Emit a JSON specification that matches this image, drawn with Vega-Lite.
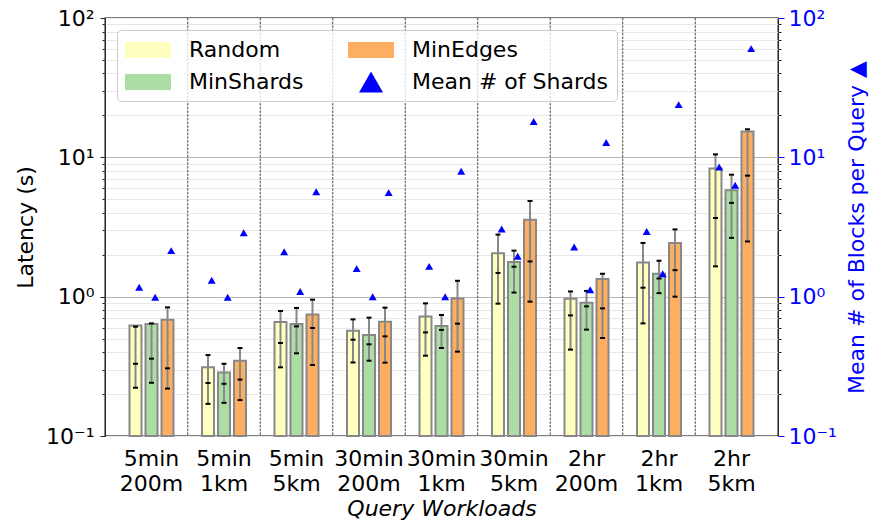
{
  "$schema": "https://vega.github.io/schema/vega-lite/v6.json",
  "width": 673,
  "height": 418,
  "autosize": {"type": "none"},
  "padding": {"left": 105, "top": 18, "right": 97, "bottom": 95},
  "data": {
    "values": [
      {"g": "5min 200m", "m": "Random", "mean": 0.62, "lo": 0.222, "mid": 0.33, "hi": 0.609, "sh": 1.17},
      {"g": "5min 200m", "m": "MinShards", "mean": 0.637, "lo": 0.241, "mid": 0.359, "hi": 0.643, "sh": 0.99},
      {"g": "5min 200m", "m": "MinEdges", "mean": 0.684, "lo": 0.219, "mid": 0.306, "hi": 0.838, "sh": 2.14},
      {"g": "5min 1km", "m": "Random", "mean": 0.311, "lo": 0.17, "mid": 0.24, "hi": 0.381, "sh": 1.31},
      {"g": "5min 1km", "m": "MinShards", "mean": 0.286, "lo": 0.173, "mid": 0.237, "hi": 0.33, "sh": 0.99},
      {"g": "5min 1km", "m": "MinEdges", "mean": 0.347, "lo": 0.181, "mid": 0.254, "hi": 0.428, "sh": 2.88},
      {"g": "5min 5km", "m": "Random", "mean": 0.658, "lo": 0.311, "mid": 0.465, "hi": 0.789, "sh": 2.1},
      {"g": "5min 5km", "m": "MinShards", "mean": 0.637, "lo": 0.392, "mid": 0.612, "hi": 0.83, "sh": 1.09},
      {"g": "5min 5km", "m": "MinEdges", "mean": 0.746, "lo": 0.323, "mid": 0.596, "hi": 0.952, "sh": 5.67},
      {"g": "30min 200m", "m": "Random", "mean": 0.57, "lo": 0.337, "mid": 0.491, "hi": 0.687, "sh": 1.59},
      {"g": "30min 200m", "m": "MinShards", "mean": 0.531, "lo": 0.347, "mid": 0.455, "hi": 0.707, "sh": 1.0},
      {"g": "30min 200m", "m": "MinEdges", "mean": 0.662, "lo": 0.336, "mid": 0.519, "hi": 0.834, "sh": 5.58},
      {"g": "30min 1km", "m": "Random", "mean": 0.722, "lo": 0.377, "mid": 0.554, "hi": 0.895, "sh": 1.65},
      {"g": "30min 1km", "m": "MinShards", "mean": 0.616, "lo": 0.428, "mid": 0.577, "hi": 0.739, "sh": 1.0},
      {"g": "30min 1km", "m": "MinEdges", "mean": 0.972, "lo": 0.403, "mid": 0.64, "hi": 1.3, "sh": 7.94},
      {"g": "30min 5km", "m": "Random", "mean": 2.05, "lo": 0.891, "mid": 1.48, "hi": 2.79, "sh": 3.06},
      {"g": "30min 5km", "m": "MinShards", "mean": 1.77, "lo": 1.07, "mid": 1.64, "hi": 2.14, "sh": 1.95},
      {"g": "30min 5km", "m": "MinEdges", "mean": 3.57, "lo": 0.921, "mid": 1.79, "hi": 4.86, "sh": 18.1},
      {"g": "2hr 200m", "m": "Random", "mean": 0.968, "lo": 0.417, "mid": 0.734, "hi": 1.09, "sh": 2.27},
      {"g": "2hr 200m", "m": "MinShards", "mean": 0.906, "lo": 0.58, "mid": 0.852, "hi": 1.1, "sh": 1.12},
      {"g": "2hr 200m", "m": "MinEdges", "mean": 1.34, "lo": 0.505, "mid": 0.824, "hi": 1.46, "sh": 12.8},
      {"g": "2hr 1km", "m": "Random", "mean": 1.76, "lo": 0.643, "mid": 1.16, "hi": 2.43, "sh": 2.94},
      {"g": "2hr 1km", "m": "MinShards", "mean": 1.46, "lo": 1.06, "mid": 1.35, "hi": 1.81, "sh": 1.46},
      {"g": "2hr 1km", "m": "MinEdges", "mean": 2.43, "lo": 1.0, "mid": 1.55, "hi": 3.04, "sh": 23.9},
      {"g": "2hr 5km", "m": "Random", "mean": 8.3, "lo": 1.65, "mid": 3.67, "hi": 10.5, "sh": 8.53},
      {"g": "2hr 5km", "m": "MinShards", "mean": 5.8, "lo": 2.64, "mid": 4.71, "hi": 7.51, "sh": 6.3},
      {"g": "2hr 5km", "m": "MinEdges", "mean": 15.3, "lo": 2.49, "mid": 7.39, "hi": 15.9, "sh": 60.3}
    ]
  },
  "layer": [
    {
      "layer": [
        {
          "data": {"values": [
            {"g": "5min 1km"}, {"g": "5min 5km"}, {"g": "30min 200m"}, {"g": "30min 1km"},
            {"g": "30min 5km"}, {"g": "2hr 200m"}, {"g": "2hr 1km"}, {"g": "2hr 5km"}
          ]},
          "mark": {"type": "rule", "color": "#444444", "strokeWidth": 1, "strokeDash": [2.5, 1.2]},
          "encoding": {
            "x": {"field": "g", "type": "nominal", "bandPosition": 0, "title": "Query Workloads"}
          }
        },
        {
          "mark": {"type": "bar", "stroke": "#888888", "strokeWidth": 2, "opacity": 1},
          "encoding": {
            "x": {
              "field": "g", "type": "nominal", "title": "Query Workloads",
              "scale": {
                "domain": ["5min 200m", "5min 1km", "5min 5km", "30min 200m", "30min 1km", "30min 5km", "2hr 200m", "2hr 1km", "2hr 5km"],
                "paddingInner": 0, "paddingOuter": 0.1414
              }
            },
            "xOffset": {
              "field": "m", "type": "nominal",
              "scale": {"domain": ["Random", "MinShards", "MinEdges"], "paddingInner": 0.25, "paddingOuter": 0.89}
            },
            "y": {
              "field": "mean", "type": "quantitative", "title": "Latency (s)",
              "scale": {"type": "log", "domain": [0.1, 100], "nice": false},
              "axis": {"orient": "left"}
            },
            "y2": {"datum": 0.1},
            "color": {
              "field": "m", "type": "nominal",
              "scale": {
                "domain": ["Random", "MinShards", "MinEdges", "Mean # of Shards"],
                "range": ["#ffffbf", "#abdda4", "#fdae61", "#0000ff"]
              },
              "legend": {"title": null}
            }
          }
        },
        {
          "mark": {"type": "rule", "color": "#888888", "strokeWidth": 2},
          "encoding": {
            "x": {"field": "g", "type": "nominal", "title": "Query Workloads"},
            "xOffset": {"field": "m", "type": "nominal"},
            "y": {"field": "lo", "type": "quantitative", "title": "Latency (s)"},
            "y2": {"field": "hi"}
          }
        },
        {
          "transform": [{"fold": ["lo", "mid", "hi"], "as": ["k", "v"]}],
          "mark": {"type": "tick", "color": "black", "thickness": 2, "size": 5, "opacity": 1},
          "encoding": {
            "x": {"field": "g", "type": "nominal", "title": "Query Workloads"},
            "xOffset": {"field": "m", "type": "nominal"},
            "y": {"field": "v", "type": "quantitative", "title": "Latency (s)"}
          }
        }
      ]
    },
    {
      "mark": {"type": "point", "filled": true, "size": 64, "opacity": 1},
      "encoding": {
        "x": {"field": "g", "type": "nominal", "title": "Query Workloads"},
        "xOffset": {"field": "m", "type": "nominal"},
        "y": {
          "field": "sh", "type": "quantitative", "title": "Mean # of Blocks per Query ▲",
          "scale": {"type": "log", "domain": [0.1, 100], "nice": false},
          "axis": {
            "orient": "right",
            "grid": false,
            "domain": false,
            "values": [0.1, 0.2, 0.3, 0.4, 0.5, 0.6, 0.7, 0.8, 0.9, 1, 2, 3, 4, 5, 6, 7, 8, 9, 10, 20, 30, 40, 50, 60, 70, 80, 90, 100],
            "labelExpr": "datum.value == 100 ? '10²' : datum.value == 10 ? '10¹' : datum.value == 1 ? '10⁰' : datum.value == 0.1 ? '10⁻¹' : ''",
            "labelColor": "#0000ff",
            "titleColor": "#0000ff",
            "titleAngle": -90,
            "titleBaseline": "top",
            "titlePadding": 10,
            "labelPadding": 4,
            "tickColor": {"condition": {"test": "indexof([0.1, 1, 10, 100], datum.value) >= 0", "value": "#0000ff"}, "value": "#222222"},
            "tickSize": {"condition": {"test": "indexof([0.1, 1, 10, 100], datum.value) >= 0", "value": 6}, "value": 3}
          }
        },
        "color": {"datum": "Mean # of Shards"},
        "shape": {
          "datum": "Mean # of Shards",
          "scale": {
            "domain": ["Random", "MinShards", "MinEdges", "Mean # of Shards"],
            "range": ["M-1,-0.67H2.83V0.67H-1Z", "M-1,-0.67H2.83V0.67H-1Z", "M-1,-0.67H2.83V0.67H-1Z", "M0.92,-0.87L1.92,0.87L-0.08,0.87Z"]
          },
          "legend": {"title": null}
        }
      }
    }
  ],
  "resolve": {"scale": {"y": "independent"}},
  "config": {
    "font": "DejaVu Sans",
    "view": {"stroke": "black", "strokeWidth": 1.3},
    "axis": {
      "labelFont": "DejaVu Sans",
      "titleFont": "DejaVu Sans",
      "labelFontSize": 22,
      "titleFontSize": 22,
      "titleFontWeight": "normal",
      "labelColor": "black",
      "titleColor": "black"
    },
    "axisX": {
      "ticks": false,
      "domain": false,
      "grid": false,
      "labelAngle": 0,
      "labelExpr": "split(datum.value, ' ')",
      "labelLineHeight": 25,
      "labelPadding": 12,
      "labelOverlap": false,
      "labelBound": false,
      "titleFontStyle": "italic",
      "titlePadding": 4
    },
    "axisLeft": {
      "domain": false,
      "grid": true,
      "values": [0.1, 0.2, 0.3, 0.4, 0.5, 0.6, 0.7, 0.8, 0.9, 1, 2, 3, 4, 5, 6, 7, 8, 9, 10, 20, 30, 40, 50, 60, 70, 80, 90, 100],
      "labelExpr": "datum.value == 100 ? '10²' : datum.value == 10 ? '10¹' : datum.value == 1 ? '10⁰' : datum.value == 0.1 ? '10⁻¹' : ''",
      "gridColor": {"condition": {"test": "datum.value == 1 || datum.value == 10", "value": "#b8b8b8"}, "value": "#e8e8e8"},
      "gridWidth": 1.2,
      "tickColor": "#222222",
      "tickSize": {"condition": {"test": "indexof([0.1, 1, 10, 100], datum.value) >= 0", "value": 5}, "value": 3},
      "labelPadding": 6,
      "titlePadding": 8
    },
    "legend": {
      "orient": "top-left",
      "offset": 12,
      "columns": 2,
      "labelFont": "DejaVu Sans",
      "labelFontSize": 22,
      "labelColor": "black",
      "labelLimit": 300,
      "symbolSize": 576,
      "labelOffset": 40,
      "columnPadding": 44,
      "rowPadding": 9,
      "padding": 8,
      "fillColor": "rgba(255,255,255,0.8)",
      "strokeColor": "#cccccc",
      "cornerRadius": 4,
      "symbolStrokeWidth": 0,
      "symbolOpacity": 1
    }
  }
}
